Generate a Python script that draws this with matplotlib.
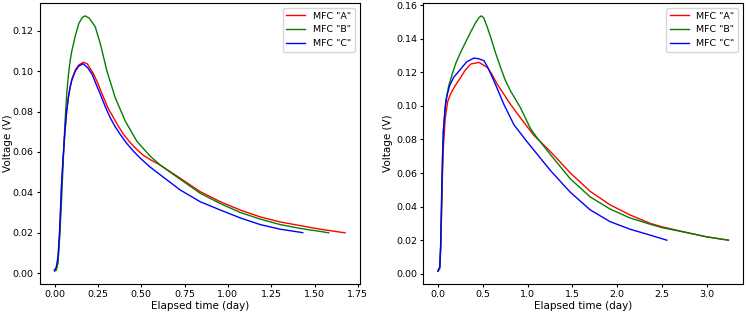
import numpy as np
from matplotlib import pyplot as plt

# left panel (first run)
left_a_x = [0, 0.01, 0.02, 0.03, 0.04, 0.05, 0.06, 0.07, 0.08, 0.09, 0.10, 0.12, 0.14, 0.167, 0.19, 0.225,
            0.25, 0.283, 0.31, 0.34, 0.37, 0.398, 0.435, 0.475, 0.51, 0.552, 0.61, 0.725, 0.84, 0.956,
            1.071, 1.186, 1.301, 1.416, 1.532, 1.676]
left_a_y = [0.0015, 0.002, 0.006, 0.02, 0.042, 0.057, 0.070, 0.080, 0.087, 0.092, 0.096, 0.1005, 0.103,
            0.1044, 0.1035, 0.0986, 0.094, 0.0869, 0.0815, 0.077, 0.0725, 0.0687, 0.0648, 0.0612, 0.0585,
            0.0562, 0.0535, 0.047, 0.0404, 0.0354, 0.0313, 0.0279, 0.0254, 0.0236, 0.0218, 0.020]

left_b_x = [0, 0.01, 0.02, 0.03, 0.04, 0.05, 0.06, 0.07, 0.08, 0.09, 0.10, 0.12, 0.14, 0.16, 0.177, 0.20,
            0.235, 0.264, 0.302, 0.35, 0.408, 0.475, 0.552, 0.61, 0.725, 0.84, 0.956, 1.071, 1.186, 1.301,
            1.416, 1.532, 1.582]
left_b_y = [0.001, 0.0015, 0.005, 0.018, 0.035, 0.055, 0.074, 0.088, 0.098, 0.105, 0.110, 0.1175, 0.1235,
            0.1265, 0.1273, 0.1262, 0.1219, 0.1136, 0.1002, 0.0869, 0.0753, 0.0653, 0.0579, 0.0535, 0.0465,
            0.0396, 0.0345, 0.0301, 0.0268, 0.0241, 0.0222, 0.0207, 0.020]

left_c_x = [0, 0.01, 0.02, 0.03, 0.04, 0.05, 0.06, 0.07, 0.08, 0.09, 0.10, 0.12, 0.14, 0.165, 0.19, 0.216,
            0.24, 0.264, 0.29, 0.321, 0.35, 0.379, 0.416, 0.456, 0.50, 0.552, 0.61, 0.725, 0.84, 0.956,
            1.071, 1.186, 1.301, 1.432]
left_c_y = [0.0016, 0.003, 0.008, 0.022, 0.043, 0.058, 0.070, 0.080, 0.087, 0.092, 0.0955, 0.100, 0.1025,
            0.1036, 0.1018, 0.0986, 0.0935, 0.0886, 0.083, 0.077, 0.0725, 0.0687, 0.0643, 0.0603, 0.0565,
            0.0525, 0.0487, 0.0412, 0.0354, 0.0313, 0.0274, 0.0241, 0.0218, 0.0201]

# right panel (second run)
right_a_x = [0, 0.02, 0.03, 0.04, 0.05, 0.06, 0.08, 0.108, 0.14, 0.175, 0.21, 0.253, 0.30, 0.365, 0.458,
             0.551, 0.60, 0.662, 0.735, 0.81, 0.922, 1.07, 1.256, 1.479, 1.702, 1.924, 2.147, 2.371, 2.50,
             2.817, 3.00, 3.245]
right_a_y = [0.0016, 0.004, 0.015, 0.035, 0.058, 0.075, 0.092, 0.1025, 0.107, 0.1105, 0.1135, 0.1169, 0.121,
             0.1249, 0.1259, 0.1229, 0.119, 0.1129, 0.107, 0.1009, 0.0928, 0.0825, 0.0728, 0.060, 0.049,
             0.041, 0.035, 0.030, 0.028, 0.0241, 0.022, 0.020]

right_b_x = [0, 0.02, 0.03, 0.04, 0.05, 0.06, 0.086, 0.12, 0.16, 0.20, 0.253, 0.30, 0.365, 0.42, 0.46, 0.484,
             0.51, 0.55, 0.588, 0.64, 0.699, 0.75, 0.81, 0.922, 1.033, 1.10, 1.256, 1.479, 1.702, 1.924,
             2.147, 2.371, 2.50, 2.817, 3.00, 3.245]
right_b_y = [0.0015, 0.003, 0.015, 0.04, 0.065, 0.085, 0.1025, 0.112, 0.119, 0.1255, 0.1319, 0.137, 0.144,
             0.1495, 0.1527, 0.1536, 0.1525, 0.147, 0.141, 0.132, 0.1229, 0.1155, 0.1089, 0.0988, 0.0865,
             0.0815, 0.071, 0.0565, 0.0457, 0.0385, 0.0332, 0.0295, 0.0275, 0.0241, 0.022, 0.020]

right_c_x = [0, 0.02, 0.03, 0.04, 0.05, 0.06, 0.08, 0.10, 0.13, 0.175, 0.253, 0.32, 0.402, 0.46, 0.514, 0.56,
             0.625, 0.736, 0.848, 0.997, 1.256, 1.479, 1.702, 1.924, 2.147, 2.371, 2.557]
right_c_y = [0.0016, 0.004, 0.018, 0.045, 0.070, 0.085, 0.099, 0.106, 0.112, 0.117, 0.1219, 0.1262, 0.1285,
             0.128, 0.1269, 0.1225, 0.1149, 0.1009, 0.0888, 0.0785, 0.0615, 0.0485, 0.038, 0.031, 0.0265,
             0.023, 0.020]

labels = ['MFC "A"', 'MFC "B"', 'MFC "C"']
colors = ['red', 'green', 'blue']

fig, (ax1, ax2) = plt.subplots(1, 2, figsize=(7.46, 3.12), dpi=100)
fig.subplots_adjust(left=0.0536, right=0.996, bottom=0.0897, top=0.99, wspace=0.2)

panels = [
    (ax1, [(left_a_x, left_a_y), (left_b_x, left_b_y), (left_c_x, left_c_y)]),
    (ax2, [(right_a_x, right_a_y), (right_b_x, right_b_y), (right_c_x, right_c_y)]),
]

for ax, series in panels:
    for (x, y), lab, col in zip(series, labels, colors):
        ax.plot(x, y, color=col, linewidth=1.0, label=lab)
    ax.set_xlabel('Elapsed time (day)', fontsize=7.5, labelpad=1)
    ax.set_ylabel('Voltage (V)', fontsize=7.5)
    ax.tick_params(labelsize=6.8, length=2.5, pad=2)
    ax.legend(loc='upper right', fontsize=6.8)

ax1.yaxis.set_label_coords(-0.084, 0.5)
ax2.yaxis.set_label_coords(-0.095, 0.5)
ax1.set_xticks([0.0, 0.25, 0.5, 0.75, 1.0, 1.25, 1.5, 1.75])
ax1.set_yticks(np.arange(0, 0.121, 0.02))
ax2.set_yticks(np.arange(0, 0.161, 0.02))

fig.savefig('out.png')
